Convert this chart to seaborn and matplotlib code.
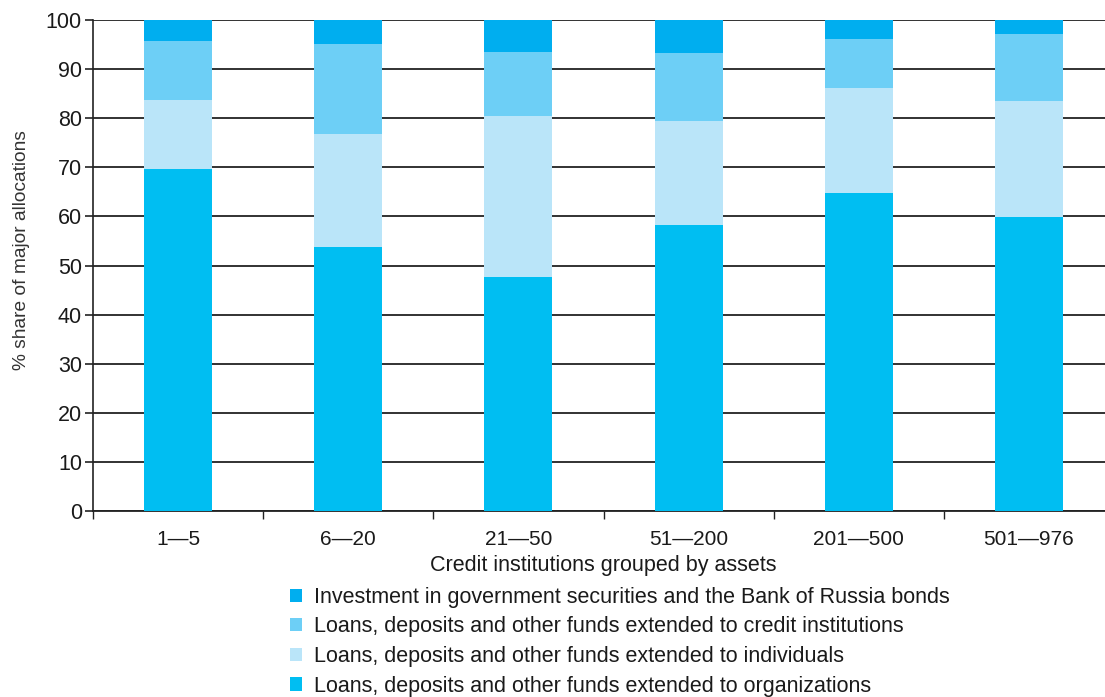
import matplotlib
matplotlib.use("Agg")
import matplotlib.pyplot as plt
import seaborn as sns
import numpy as np
import pandas as pd
from matplotlib.patches import Patch

categories = ["1—5", "6—20", "21—50", "51—200", "201—500", "501—976"]
organizations = [69.7, 53.8, 47.7, 58.2, 64.8, 59.9]
individuals = [14.0, 23.0, 32.7, 21.2, 21.3, 23.6]
credit_inst = [12.0, 18.3, 13.1, 13.9, 10.0, 13.6]
government = [4.3, 4.9, 6.5, 6.7, 3.9, 2.9]

series_names = [
    "Investment in government securities and the Bank of Russia bonds",
    "Loans, deposits and other funds extended to credit institutions",
    "Loans, deposits and other funds extended to individuals",
    "Loans, deposits and other funds extended to organizations",
]
colors = ["#00AEEF", "#6DCFF6", "#BAE5F9", "#00BEF2"]

sns.set_theme(style="white")
plt.rcParams["font.family"] = ["Liberation Sans", "DejaVu Sans"]

fig = plt.figure(figsize=(11.05, 6.97), dpi=100)
ax = fig.add_axes([93 / 1105, 1 - 511 / 697, 1021 / 1105, 491 / 697])

# cumulative stacks (bottom to top: organizations, individuals, credit, government)
stack = [organizations, individuals, credit_inst, government]
cum = np.cumsum(np.array(stack), axis=0)
order = [3, 2, 1, 0]
color_for_stack = [colors[3], colors[2], colors[1], colors[0]]
for i in order:
    df = pd.DataFrame({"cat": categories, "val": cum[i]})
    sns.barplot(data=df, x="cat", y="val", color=color_for_stack[i],
                saturation=1, width=0.4, ax=ax, zorder=3, linewidth=0)

ax.set_ylim(0, 100)
ax.set_xlim(-0.5, 5.5)
ax.set_yticks(np.arange(0, 101, 10))
ax.yaxis.grid(True, color="#222222", linewidth=1.3, zorder=0)
ax.set_axisbelow(True)
for s in ["top", "right"]:
    ax.spines[s].set_visible(False)
ax.spines["left"].set_color("#222222")
ax.spines["left"].set_linewidth(1.2)
ax.spines["bottom"].set_color("#222222")
ax.spines["bottom"].set_linewidth(1.3)

ax.tick_params(axis="y", which="major", left=True, length=6, width=1.2,
               color="#222222", labelsize=15.5, pad=2, labelcolor="#1a1a1a")
ax.set_xticks(range(len(categories)))
ax.set_xticklabels(categories)
ax.tick_params(axis="x", which="major", bottom=False, labelsize=15, pad=8,
               labelcolor="#1a1a1a")
ax.set_xticks(np.arange(-0.5, 5.6, 1), minor=True)
ax.tick_params(axis="x", which="minor", bottom=True, length=6, width=1.0,
               color="#222222")

ax.set_xlabel("Credit institutions grouped by assets", fontsize=15.5,
              color="#1a1a1a", labelpad=4)
ax.set_ylabel("% share of major allocations", fontsize=13.8,
              color="#333333")
ax.yaxis.set_label_coords((30 - 93) / 1021, (511 - 250) / 491)

handles = [Patch(facecolor=c, edgecolor="none") for c in colors]
fig.legend(handles, series_names, loc="upper left",
           bbox_to_anchor=(279 / 1105, 1 - 576 / 697), frameon=False,
           fontsize=15.5, handlelength=0.56, handleheight=0.56,
           handletextpad=0.55, labelspacing=0.40, borderpad=0,
           labelcolor="#1a1a1a")

fig.savefig("out.png", dpi=100)
